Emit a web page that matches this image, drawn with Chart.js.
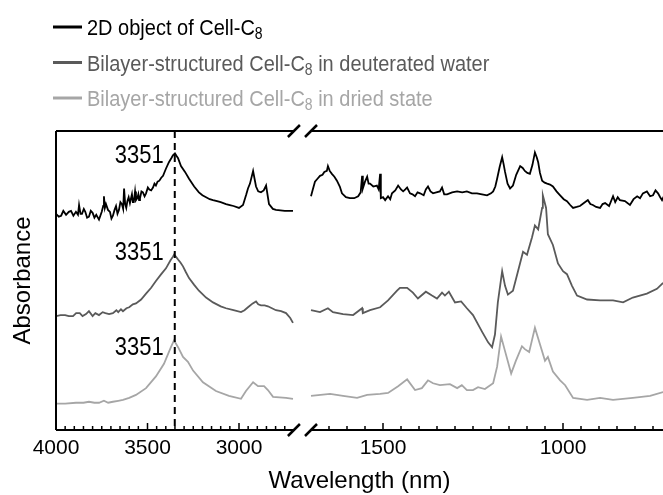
<!DOCTYPE html>
<html>
<head>
<meta charset="utf-8">
<script src="https://cdn.jsdelivr.net/npm/chart.js@4.4.1/dist/chart.umd.min.js"></script>
<style>
  html, body { margin: 0; padding: 0; background: #fff; }
</style>
</head>
<body>
<canvas id="grafico" width="663" height="495"></canvas>
<script>
// spectra (x in cm-1 as printed on the axis, y in a.u., offset per trace)
// null = axis break between 2700 and 1700
const blackWn = [4000, 3985, 3972, 3960, 3945, 3930, 3918, 3905, 3891, 3880, 3874, 3866, 3858, 3848, 3840, 3830, 3820, 3810, 3800, 3790,
  3780, 3765, 3750, 3742, 3738, 3733, 3727, 3716, 3705, 3697, 3689, 3680, 3672, 3664, 3656, 3648, 3640, 3633, 3628, 3622,
  3616, 3610, 3603, 3596, 3585, 3580, 3575, 3568, 3563, 3556, 3550, 3546, 3541, 3533, 3525, 3516, 3508, 3498, 3490, 3480,
  3470, 3462, 3454, 3445, 3435, 3425, 3415, 3400, 3383, 3370, 3361, 3350, 3340, 3333, 3317, 3295, 3273, 3245, 3219, 3200,
  3180, 3160, 3142, 3120, 3100, 3071, 3050, 3030, 3000, 2978, 2960, 2951, 2940, 2923, 2915, 2907, 2895, 2880, 2865, 2852,
  2836, 2815, 2798, 2750, 2705, 2200,
  1700, 1695, 1689, 1682, 1675, 1668, 1663, 1656, 1653, 1648, 1642, 1635, 1628, 1620, 1614, 1603, 1592, 1580, 1569, 1562,
  1558, 1556, 1550, 1544, 1540, 1536, 1527, 1517, 1512, 1508, 1506, 1500, 1494, 1486, 1480, 1475, 1466, 1458, 1450, 1444,
  1438, 1433, 1425, 1418, 1411, 1404, 1397, 1387, 1381, 1375, 1368, 1361, 1352, 1342, 1336, 1330, 1322, 1308, 1294, 1280,
  1267, 1253, 1239, 1225, 1211, 1200, 1194, 1188, 1183, 1176, 1169, 1165, 1161, 1154, 1147, 1139, 1130, 1119, 1112, 1106,
  1099, 1092, 1085, 1078, 1073, 1069, 1064, 1058, 1051, 1044, 1036, 1028, 1018, 1008, 998, 989, 980, 972, 962, 953,
  942, 931, 924, 917, 908, 897, 890, 883, 872, 861, 855, 848, 842, 828, 814, 804, 794, 786, 778, 767,
  758, 750, 743, 736, 730, 725, 720];
const blackAbs = [2.22, 2.19, 2.20, 2.25, 2.21, 2.24, 2.25, 2.20, 2.24, 2.21, 2.31, 2.22, 2.22, 2.27, 2.24, 2.18, 2.19, 2.25, 2.23, 2.18,
  2.21, 2.16, 2.24, 2.30, 2.40, 2.28, 2.32, 2.26, 2.24, 2.17, 2.20, 2.26, 2.30, 2.22, 2.26, 2.34, 2.32, 2.27, 2.48, 2.32,
  2.28, 2.35, 2.39, 2.33, 2.42, 2.34, 2.34, 2.45, 2.36, 2.38, 2.42, 2.36, 2.38, 2.45, 2.44, 2.40, 2.43, 2.49, 2.47, 2.46,
  2.49, 2.53, 2.51, 2.55, 2.56, 2.59, 2.61, 2.68, 2.75, 2.79, 2.82, 2.84, 2.81, 2.79, 2.71, 2.65, 2.58, 2.50, 2.44, 2.41,
  2.39, 2.37, 2.36, 2.35, 2.34, 2.32, 2.31, 2.30, 2.28, 2.31, 2.42, 2.48, 2.53, 2.66, 2.58, 2.50, 2.45, 2.44, 2.46, 2.51,
  2.32, 2.27, 2.26, 2.25, 2.25, null,
  2.40, 2.47, 2.55, 2.58, 2.61, 2.62, 2.65, 2.66, 2.71, 2.66, 2.63, 2.60, 2.56, 2.50, 2.43, 2.39, 2.38, 2.38, 2.40, 2.44,
  2.61, 2.48, 2.55, 2.60, 2.53, 2.53, 2.50, 2.51, 2.47, 2.63, 2.38, 2.39, 2.36, 2.40, 2.37, 2.43, 2.46, 2.51, 2.47, 2.45,
  2.47, 2.49, 2.43, 2.42, 2.40, 2.44, 2.43, 2.41, 2.47, 2.50, 2.45, 2.43, 2.44, 2.45, 2.49, 2.42, 2.42, 2.44, 2.45, 2.44,
  2.45, 2.43, 2.43, 2.42, 2.41, 2.43, 2.45, 2.50, 2.58, 2.70, 2.80, 2.73, 2.65, 2.53, 2.48, 2.51, 2.62, 2.71, 2.69, 2.66,
  2.64, 2.63, 2.72, 2.85, 2.80, 2.75, 2.64, 2.56, 2.54, 2.53, 2.52, 2.50, 2.45, 2.41, 2.37, 2.35, 2.31, 2.28, 2.29, 2.30,
  2.33, 2.36, 2.32, 2.31, 2.29, 2.28, 2.32, 2.33, 2.30, 2.40, 2.34, 2.39, 2.36, 2.35, 2.31, 2.37, 2.40, 2.38, 2.43, 2.45,
  2.40, 2.41, 2.46, 2.43, 2.39, 2.36, 2.40];

const d2oWn = [4000, 3975, 3950, 3930, 3907, 3890, 3870, 3855, 3836, 3820, 3800, 3785, 3765, 3745, 3730, 3710, 3689, 3670, 3660, 3645,
  3634, 3615, 3600, 3580, 3563, 3535, 3508, 3480, 3454, 3425, 3399, 3375, 3361, 3355, 3345, 3333, 3320, 3306, 3290, 3273,
  3245, 3219, 3180, 3142, 3100, 3071, 3030, 2989, 2970, 2951, 2925, 2907, 2895, 2880, 2860, 2842, 2820, 2798, 2770, 2743,
  2720, 2705, 2200,
  1700, 1675, 1653, 1639, 1611, 1583, 1558, 1556, 1536, 1508, 1486, 1461, 1453, 1433, 1417, 1403, 1381, 1364, 1350, 1336,
  1328, 1317, 1300, 1283, 1267, 1250, 1225, 1208, 1197, 1189, 1181, 1169, 1161, 1153, 1139, 1125, 1111, 1100, 1086, 1078,
  1069, 1058, 1056, 1047, 1042, 1028, 1014, 1000, 989, 975, 961, 933, 897, 861, 833, 806, 767, 739, 722];
const d2oAbs = [1.17, 1.18, 1.18, 1.17, 1.17, 1.20, 1.20, 1.17, 1.19, 1.22, 1.17, 1.20, 1.18, 1.21, 1.20, 1.19, 1.20, 1.23, 1.21, 1.24,
  1.22, 1.25, 1.26, 1.29, 1.30, 1.34, 1.40, 1.46, 1.53, 1.60, 1.66, 1.74, 1.78, 1.80, 1.78, 1.75, 1.72, 1.68, 1.62, 1.56,
  1.49, 1.43, 1.36, 1.31, 1.27, 1.25, 1.23, 1.21, 1.23, 1.26, 1.30, 1.32, 1.29, 1.28, 1.28, 1.27, 1.25, 1.23, 1.22, 1.20,
  1.15, 1.10, null,
  1.23, 1.21, 1.25, 1.21, 1.19, 1.18, 1.25, 1.20, 1.23, 1.26, 1.33, 1.43, 1.46, 1.46, 1.41, 1.35, 1.42, 1.38, 1.35, 1.41,
  1.38, 1.42, 1.31, 1.32, 1.25, 1.18, 1.01, 0.90, 0.85, 0.98, 1.31, 1.63, 1.48, 1.39, 1.43, 1.63, 1.83, 1.80, 1.98, 2.10,
  2.06, 2.28, 2.41, 2.28, 2.01, 1.90, 1.71, 1.63, 1.60, 1.48, 1.38, 1.34, 1.33, 1.33, 1.31, 1.36, 1.40, 1.45, 1.51];

const driedWn = [4000, 3950, 3891, 3850, 3820, 3790, 3765, 3738, 3715, 3689, 3660, 3634, 3600, 3563, 3508, 3454, 3410, 3372, 3355, 3333,
  3306, 3279, 3251, 3197, 3126, 3055, 2989, 2962, 2923, 2896, 2863, 2842, 2814, 2743, 2705, 2200,
  1700, 1647, 1611, 1572, 1544, 1508, 1486, 1458, 1433, 1411, 1392, 1375, 1361, 1342, 1314, 1294, 1281, 1267, 1250, 1236,
  1217, 1194, 1183, 1172, 1161, 1144, 1131, 1114, 1106, 1094, 1078, 1064, 1050, 1042, 1028, 1008, 994, 972, 933, 897,
  861, 806, 758, 722];
const driedAbs = [0.27, 0.27, 0.28, 0.28, 0.29, 0.28, 0.28, 0.30, 0.28, 0.29, 0.30, 0.31, 0.33, 0.36, 0.43, 0.55, 0.68, 0.85, 0.92, 0.85,
  0.75, 0.70, 0.61, 0.49, 0.40, 0.35, 0.32, 0.40, 0.49, 0.45, 0.45, 0.41, 0.34, 0.33, 0.32, null,
  0.35, 0.37, 0.35, 0.33, 0.36, 0.37, 0.38, 0.45, 0.52, 0.41, 0.43, 0.51, 0.48, 0.46, 0.47, 0.43, 0.46, 0.41, 0.41, 0.44,
  0.42, 0.48, 0.65, 0.96, 0.81, 0.58, 0.71, 0.86, 0.83, 0.80, 1.05, 0.88, 0.71, 0.75, 0.60, 0.51, 0.46, 0.33, 0.31, 0.33,
  0.31, 0.33, 0.35, 0.39];

const seriesLabels = ['2D object of Cell-C8', 'Bilayer-structured Cell-C8 in deuterated water', 'Bilayer-structured Cell-C8 in dried state'];
const majorTicks = [4000, 3500, 3000, 1500, 1000];
const peakWn = 3351;
const peakLabelAbs = [2.83, 1.84, 0.86];

// broken axis: 4000-2700 compressed on the left, 1700-720 on the right
const breakHigh = 2700, breakLow = 1700;
function toAxis(w) {
  return w >= breakHigh ? (4000 - w) * 0.183 : 255 + (breakLow - w) * 0.36;
}

const FONT = "'Liberation Sans', Arial, sans-serif";
Chart.defaults.font.family = FONT;
Chart.defaults.color = '#000';

function pts(wn, abs) {
  return wn.map((w, i) => ({ x: toAxis(w), y: abs[i] }));
}

// the source figure is a bit taller than wide, so text is stretched a little
function tallText(ctx, str, x, y, size) {
  ctx.save();
  ctx.translate(x, y);
  ctx.scale(1, 1.13);
  ctx.font = size + 'px ' + FONT;
  ctx.fillText(str, 0, 0);
  ctx.restore();
  ctx.font = size + 'px ' + FONT;
  return ctx.measureText(str).width;
}

const frame = {
  id: 'frame',
  afterDraw(chart) {
    const { ctx, chartArea: a, scales: { x, y } } = chart;
    const bL = x.getPixelForValue(toAxis(breakHigh));
    const bR = x.getPixelForValue(toAxis(breakLow));
    ctx.save();
    ctx.strokeStyle = '#000';
    ctx.lineWidth = 2;
    ctx.beginPath();
    ctx.moveTo(a.left, a.top); ctx.lineTo(a.left, a.bottom);
    [a.top, a.bottom].forEach(yy => {
      ctx.moveTo(a.left, yy); ctx.lineTo(bL, yy);
      ctx.moveTo(bR, yy); ctx.lineTo(a.right, yy);
    });
    ctx.stroke();
    // break marks
    ctx.lineWidth = 2.5;
    ctx.beginPath();
    [a.top, a.bottom].forEach(yy => {
      [bL, bR].forEach(bx => { ctx.moveTo(bx - 6, yy + 6); ctx.lineTo(bx + 6, yy - 6); });
    });
    ctx.stroke();
    // inward ticks
    ctx.lineWidth = 1.5;
    ctx.beginPath();
    x.ticks.forEach(t => {
      const px = x.getPixelForValue(t.value);
      const len = t.major ? 7 : 4;
      ctx.moveTo(px, a.bottom); ctx.lineTo(px, a.bottom - len);
    });
    ctx.stroke();
    // dashed line at the O-H peak
    const px = x.getPixelForValue(toAxis(peakWn));
    ctx.lineWidth = 2;
    ctx.setLineDash([7, 5]);
    ctx.beginPath();
    ctx.moveTo(px, a.top); ctx.lineTo(px, a.bottom);
    ctx.stroke();
    ctx.setLineDash([]);
    ctx.fillStyle = '#000';
    ctx.textAlign = 'right';
    ctx.textBaseline = 'alphabetic';
    peakLabelAbs.forEach(v => {
      tallText(ctx, String(peakWn), px - 11, y.getPixelForValue(v) + 9, 22);
    });
    // legend
    ctx.textAlign = 'left';
    chart.data.datasets.forEach((ds, i) => {
      const ly = 27 + i * 35.5;
      ctx.strokeStyle = ds.borderColor;
      ctx.lineWidth = 3;
      ctx.beginPath(); ctx.moveTo(53, ly); ctx.lineTo(82, ly); ctx.stroke();
      ctx.fillStyle = ds.borderColor;
      const parts = ds.label.split('C8');
      const base = ly + 8;
      let tx = 87;
      tx += tallText(ctx, parts[0] + 'C', tx, base, 20);
      tx += tallText(ctx, '8', tx, base + 4, 14);
      tallText(ctx, parts[1], tx, base, 20);
    });
    ctx.restore();
  }
};

const ctx = document.getElementById('grafico').getContext('2d');
new Chart(ctx, {
  type: 'line',
  data: {
    datasets: [
      { label: seriesLabels[0], data: pts(blackWn, blackAbs), borderColor: '#000000' },
      { label: seriesLabels[1], data: pts(d2oWn, d2oAbs), borderColor: '#5a5a5a' },
      { label: seriesLabels[2], data: pts(driedWn, driedAbs), borderColor: '#a6a6a6' }
    ]
  },
  options: {
    responsive: false,
    animation: false,
    spanGaps: false,
    elements: {
      point: { radius: 0 },
      line: { borderWidth: 1.8, tension: 0 }
    },
    layout: { padding: { top: 131, left: 0, right: 0, bottom: 0 } },
    plugins: { legend: { display: false }, tooltip: { enabled: false } },
    scales: {
      x: {
        type: 'linear',
        min: 0,
        max: 607,
        grid: { display: false, drawTicks: false },
        border: { display: false },
        afterBuildTicks: (scale) => {
          const vals = [];
          for (let w = 4000; w >= 2750; w -= 50) vals.push(w);
          for (let w = 1650; w >= 750; w -= 50) vals.push(w);
          scale.ticks = vals.map(w => ({ value: toAxis(w), major: majorTicks.includes(w) }));
        },
        ticks: {
          autoSkip: false,
          maxRotation: 0,
          padding: 8,
          font: { size: 21, lineHeight: 1 },
          callback: (value) => {
            const m = majorTicks.find(t => Math.abs(toAxis(t) - value) < 1e-6);
            return m === undefined ? '' : String(m);
          }
        },
        title: {
          display: true,
          text: 'Wavelength (nm)',
          font: { size: 24, lineHeight: 1 },
          padding: { top: 2, bottom: 2 }
        }
      },
      y: {
        min: 0,
        max: 3.07,
        grid: { display: false, drawTicks: false },
        border: { display: false },
        ticks: { display: false },
        title: {
          display: true,
          text: 'Absorbance',
          font: { size: 24, lineHeight: 1 },
          padding: { top: 11, bottom: 21 }
        }
      }
    }
  },
  plugins: [frame]
});
</script>
</body>
</html>
